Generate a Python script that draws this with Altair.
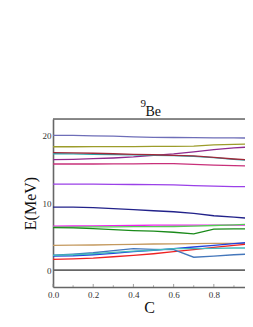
import altair as alt
import pandas as pd

C = [0.0, 0.1, 0.2, 0.3, 0.4, 0.5, 0.6, 0.7, 0.8, 0.9, 1.0]

levels = {
    "L01": [20.05, 20.05, 20.0, 19.95, 19.85, 19.78, 19.75, 19.72, 19.7, 19.68, 19.66],
    "L02": [18.37, 18.37, 18.38, 18.38, 18.4, 18.42, 18.43, 18.45, 18.65, 18.72, 18.77],
    "L03": [16.45, 16.5, 16.6, 16.7, 16.85, 17.1, 17.3, 17.6, 17.95, 18.2, 18.37],
    "L04": [17.33, 17.3, 17.25, 17.2, 17.15, 17.1, 17.05, 16.95, 16.75, 16.5, 16.3],
    "L05": [17.5, 17.45, 17.4, 17.33, 17.25, 17.18, 17.1, 17.0, 16.8, 16.55, 16.35],
    "L06": [15.8, 15.8, 15.8, 15.82, 15.83, 15.85, 15.85, 15.75, 15.65, 15.55, 15.5],
    "L07": [12.8, 12.8, 12.8, 12.78, 12.75, 12.72, 12.7, 12.6, 12.5, 12.45, 12.4],
    "L08": [9.4, 9.4, 9.3, 9.15, 9.0, 8.85, 8.7, 8.45, 8.1, 7.9, 7.66],
    "L09": [6.57, 6.58, 6.6, 6.62, 6.65, 6.7, 6.7, 6.7, 6.7, 6.7, 6.7],
    "L10": [6.4, 6.42, 6.45, 6.45, 6.47, 6.47, 6.5, 6.55, 6.65, 6.75, 6.87],
    "L11": [6.35, 6.3, 6.2, 6.05, 5.9, 5.8, 5.65, 5.4, 6.1, 6.15, 6.17],
    "L12": [3.7, 3.72, 3.75, 3.8, 3.85, 3.9, 3.92, 3.95, 4.0, 4.0, 4.0],
    "L13": [2.1, 2.15, 2.3, 2.5, 2.75, 2.95, 3.2, 3.45, 3.7, 3.95, 4.2],
    "L14": [1.6, 1.7, 1.8, 2.0, 2.2, 2.45, 2.75, 3.05, 3.4, 3.7, 3.95],
    "L15": [2.25, 2.4, 2.6, 2.9, 3.2, 3.1, 3.05, 1.93, 2.1, 2.3, 2.43],
    "L16": [2.2, 2.3, 2.45, 2.65, 2.85, 3.0, 3.2, 3.2, 3.25, 3.3, 3.3],
}

colors = ["#6e6eb8", "#9c9c2a", "#8e2a8e", "#2aa8b0", "#a02a3a", "#c8307a",
          "#9a40e8", "#22228a", "#ee22ee", "#55cc55", "#1a8a1a", "#c4995e",
          "#2244dd", "#ee2222", "#4477bb", "#44bbbb"]

major_ticks = [0.0, 0.2, 0.4, 0.6, 0.8]
minor_ticks = [0.1, 0.3, 0.5, 0.7, 0.9]

rows = []
for name, vals in levels.items():
    for c, e in zip(C, vals):
        rows.append({"C": c, "E": e, "line": name})
df = pd.DataFrame(rows)

serif = "Liberation Serif"
# the reference is cropped at the right edge, just short of C = 1
xs = alt.Scale(domain=[0, 0.955], nice=False, zero=False)
ys = alt.Scale(domain=[-2.5, 22.5], nice=False)

xaxis = alt.Axis(values=major_ticks, format=".1f", ticks=False,
                 labelFont=serif, labelFontSize=9, labelColor="#333",
                 labelPadding=3, domainColor="#666", domainWidth=1.6,
                 grid=False, titleFont=serif, titleFontSize=16,
                 titleFontWeight="normal", titleColor="#111",
                 titleBaseline="alphabetic", titleY=25,
                 labelFlush=False, labelOverlap=False)

lines = alt.Chart(df).mark_line(strokeWidth=1.3, clip=True).encode(
    x=alt.X("C:Q", scale=xs, title="C", axis=xaxis),
    y=alt.Y("E:Q", scale=ys, title="E(MeV)",
            axis=alt.Axis(values=[0, 10, 20], ticks=False, labelFont=serif,
                          labelFontSize=9, labelColor="#333", labelPadding=2,
                          domainColor="#666", domainWidth=1.6, grid=False,
                          titleFont=serif, titleFontSize=16,
                          titleFontWeight="normal", titleColor="#111",
                          titlePadding=4, labelOverlap=False)),
    color=alt.Color("line:N", scale=alt.Scale(domain=list(levels.keys()), range=colors),
                    legend=None),
)

zero = alt.Chart(pd.DataFrame({"v": [0]})).mark_rule(color="#666", strokeWidth=1.8).encode(
    y=alt.Y("v:Q", scale=ys))
top = alt.Chart(pd.DataFrame({"v": [22.5]})).mark_rule(color="#666", strokeWidth=1.6).encode(
    y=alt.Y("v:Q", scale=ys))

tick_df = pd.DataFrame({"t": major_ticks + minor_ticks,
                        "y0": [-2.5] * 10,
                        "y1": [-2.5 + 0.45] * 5 + [-2.5 + 0.25] * 5})
ticks = alt.Chart(tick_df).mark_rule(color="#888", strokeWidth=0.8).encode(
    x=alt.X("t:Q", scale=xs, title="C", axis=xaxis),
    y=alt.Y("y0:Q", scale=ys, title="E(MeV)"), y2="y1:Q")

t9 = alt.Chart(pd.DataFrame({"s": ["9"]})).mark_text(
    font=serif, fontSize=11, align="left", baseline="alphabetic", color="#111"
).encode(x=alt.value(87.5), y=alt.value(-12.5), text="s:N")
tBe = alt.Chart(pd.DataFrame({"s": ["Be"]})).mark_text(
    font=serif, fontSize=14, align="left", baseline="alphabetic", color="#111"
).encode(x=alt.value(92.5), y=alt.value(-3), text="s:N")

chart = alt.layer(lines, zero, top, ticks, t9, tBe).properties(
    width=192, height=168,
    autosize=alt.AutoSizeParams(type="none"),
    padding={"left": 45, "top": 111, "right": 0, "bottom": 28},
).configure_view(stroke=None).configure_axis(labelOverlap=False).configure(background="white")

chart.save("out.html", embed_options={"renderer": "svg", "actions": False})
